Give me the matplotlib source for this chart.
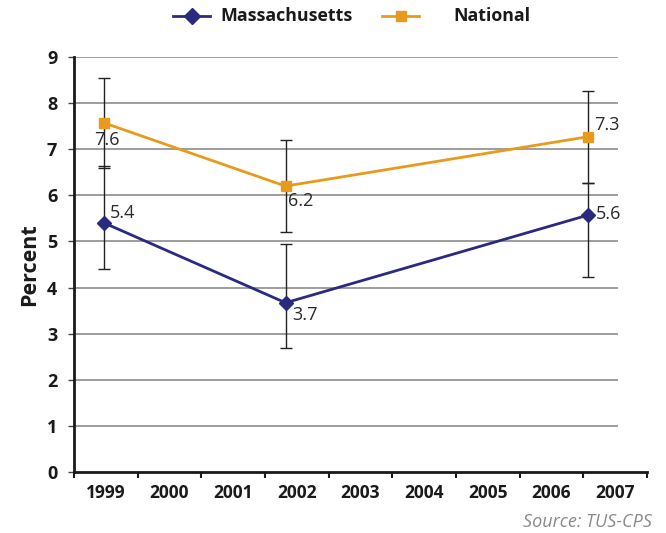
import matplotlib
matplotlib.use('Agg')
import matplotlib.pyplot as plt
from matplotlib.lines import Line2D

plt.rcParams['font.family'] = ['Open Sans', 'DejaVu Sans']

# data
years = [1999, 2002, 2007]
mass = [5.4, 3.67, 5.57]
mass_lo = [4.40, 2.69, 4.23]
mass_hi = [6.64, 4.95, 6.27]
national = [7.57, 6.20, 7.27]
nat_lo = [6.59, 5.21, 6.27]
nat_hi = [8.55, 7.20, 8.27]
mass_labels = ['5.4', '3.7', '5.6']
nat_labels = ['7.6', '6.2', '7.3']
year_labels = [str(y) for y in range(1999, 2008)]

NAVY = '#2a2a80'
ORANGE = '#e89a1c'
GRID = '#8c8c8c'

fig = plt.figure(figsize=(6.66, 5.33), dpi=100)
W, H = 666.0, 533.0

# category axis (year labels), slightly wider than the plot area
axl = fig.add_axes([74 / W, (H - 472) / H, (647 - 74) / W, (472 - 57) / H])
axl.set_xlim(-0.5, 8.5)
axl.set_ylim(0, 9)
for s in ['top', 'right', 'left']:
    axl.spines[s].set_visible(False)
axl.spines['bottom'].set_linewidth(2)
axl.spines['bottom'].set_color('#1a1a1a')
axl.set_xticks([i - 0.5 for i in range(len(year_labels) + 1)])
axl.set_xticklabels([])
axl.set_xticks(range(len(year_labels)), minor=True)
axl.set_xticklabels(year_labels, minor=True, fontsize=12.5, fontweight='bold',
                    color='#1a1a1a')
axl.tick_params(axis='x', which='major', length=4, width=1.5, color='#1a1a1a')
axl.tick_params(axis='x', which='minor', length=0, pad=9)
axl.set_yticks([])
axl.patch.set_visible(False)

# data axis
ax = fig.add_axes([74 / W, (H - 472) / H, (618 - 74) / W, (472 - 57) / H])
ax.patch.set_visible(False)
ax.set_xlim(1998.5, 2007.5)
ax.set_ylim(0, 9)
ax.set_yticks(range(0, 10))
ax.set_xticks([])
for s in ['top', 'right', 'bottom']:
    ax.spines[s].set_visible(False)
ax.spines['left'].set_linewidth(2)
ax.spines['left'].set_color('#1a1a1a')
ax.tick_params(axis='y', length=4, width=1, color='#444444', labelsize=13,
               pad=8, labelcolor='#1a1a1a')
for t in ax.get_yticklabels():
    t.set_fontweight('bold')
for v in range(1, 10):
    ax.axhline(v, color=GRID, lw=1.2, zorder=1)
ax.set_ylabel('Percent', fontsize=15.5, fontweight='bold', color='#1a1a1a',
              labelpad=5)

ax.errorbar(years, national,
            yerr=[[n - l for n, l in zip(national, nat_lo)],
                  [h - n for n, h in zip(national, nat_hi)]],
            fmt='none', ecolor='#222222', elinewidth=1, capsize=4, capthick=1,
            zorder=2)
ax.errorbar(years, mass,
            yerr=[[m - l for m, l in zip(mass, mass_lo)],
                  [h - m for m, h in zip(mass, mass_hi)]],
            fmt='none', ecolor='#222222', elinewidth=1, capsize=4, capthick=1,
            zorder=2)
ax.plot(years, national, color=ORANGE, lw=2, marker='s', ms=7.5, zorder=3)
ax.plot(years, mass, color=NAVY, lw=2, marker='D', ms=7.5, zorder=3)

nat_off = [(3, -17), (2, -15), (6, 12)]
mass_off = [(6, 10), (7, -12), (8, 1)]
for x, y, lab, off in zip(years, national, nat_labels, nat_off):
    ax.annotate(lab, (x, y), textcoords='offset pixels', xytext=off,
                ha='center' if lab == '7.6' else 'left',
                va='center', fontsize=13, color='#2a2a2a')
for x, y, lab, off in zip(years, mass, mass_labels, mass_off):
    ax.annotate(lab, (x, y), textcoords='offset pixels', xytext=off,
                ha='left', va='center', fontsize=13, color='#2a2a2a')

# legend drawn at the top
ly = 1 - 16 / H
fig.add_artist(Line2D([173 / W, 210 / W], [ly, ly], color=NAVY, lw=2,
                      transform=fig.transFigure))
fig.add_artist(Line2D([191.5 / W], [ly], color=NAVY, marker='D', ms=8,
                      transform=fig.transFigure))
fig.text(220 / W, ly, 'Massachusetts', fontsize=12.8, fontweight='bold',
         color='#1a1a1a', va='center', ha='left')
fig.add_artist(Line2D([382 / W, 419 / W], [ly, ly], color=ORANGE, lw=2,
                      transform=fig.transFigure))
fig.add_artist(Line2D([400.5 / W], [ly], color=ORANGE, marker='s', ms=7.5,
                      transform=fig.transFigure))
fig.text(453 / W, ly, 'National', fontsize=12.8, fontweight='bold',
         color='#1a1a1a', va='center', ha='left')

fig.text(652 / W, 1 - 522 / H, 'Source: TUS-CPS', fontsize=13,
         style='italic', color='#8a8a8a', ha='right', va='center')

fig.savefig('out.png', dpi=100)
